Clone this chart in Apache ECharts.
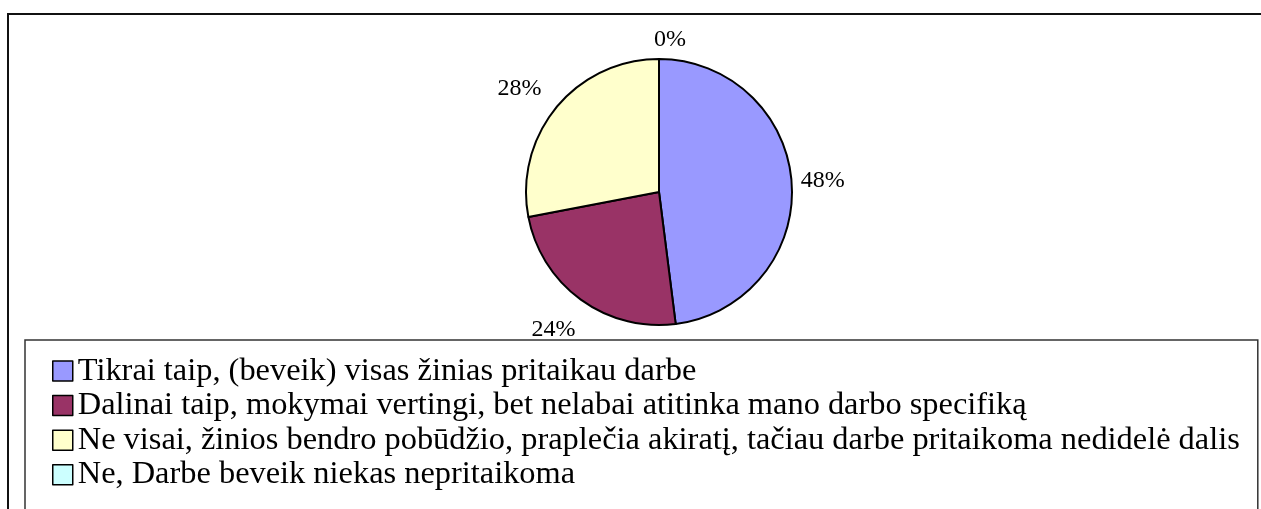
<!DOCTYPE html>
<html>
<head>
<meta charset="utf-8">
<script src="https://cdn.jsdelivr.net/npm/echarts@6/dist/echarts.min.js"></script>
<style>
  html, body { margin: 0; padding: 0; background: #fff; }
  #chart { width: 1261px; height: 509px; }
</style>
</head>
<body>
<div id="chart"></div>
<script>
// atsakymų kategorijos ir jų kiekiai
var categories = [
  'Tikrai taip, (beveik) visas žinias pritaikau darbe',
  'Dalinai taip, mokymai vertingi, bet nelabai atitinka mano darbo specifiką',
  'Ne visai, žinios bendro pobūdžio, praplečia akiratį, tačiau darbe pritaikoma nedidelė dalis',
  'Ne, Darbe beveik niekas nepritaikoma'
];
var counts = [12, 6, 7, 0];
var colors = ['#9999FF', '#993366', '#FFFFCC', '#CCFFFF'];

// small nudges so labels sit like the Excel original
var labelNudge = [[-5, -2], [5, 23], [-3, -13], [-10, -10]];

var chart = echarts.init(document.getElementById('chart'));

var option = {
  backgroundColor: '#fff',
  animation: false,
  graphic: [{
    type: 'rect',
    shape: { x: 8, y: 14, width: 1300, height: 540 },
    style: { fill: 'none', stroke: '#111', lineWidth: 2 },
    silent: true
  }],
  legend: {
    orient: 'vertical',
    left: 25,
    top: 340,
    height: 220,
    padding: [15, 18, 20, 27],
    itemWidth: 20,
    itemHeight: 20,
    itemGap: 2.6,
    icon: 'rect',
    borderColor: '#333',
    borderWidth: 1.5,
    itemStyle: { borderColor: '#000', borderWidth: 1.5 },
    textStyle: {
      fontFamily: 'Liberation Serif',
      fontSize: 32.4,
      lineHeight: 32,
      color: '#000'
    },
    data: categories
  },
  series: [{
    type: 'pie',
    center: [659, 192],
    radius: 133,
    startAngle: 90,
    clockwise: true,
    avoidLabelOverlap: false,
    itemStyle: { borderColor: '#000', borderWidth: 2 },
    emphasis: { disabled: true },
    label: {
      show: true,
      position: 'outside',
      formatter: function (p) { return Math.round(p.percent) + '%'; },
      fontFamily: 'Liberation Serif',
      fontSize: 24,
      color: '#000'
    },
    labelLine: { show: false, length: 9, length2: 0 },
    labelLayout: function (p) {
      var n = labelNudge[p.dataIndex];
      var res = { dx: n[0], dy: n[1] };
      if (p.dataIndex === 3) res.align = 'left';
      return res;
    },
    data: categories.map(function (c, i) {
      return { name: c, value: counts[i], itemStyle: { color: colors[i] } };
    })
  }]
};

chart.setOption(option);
</script>
</body>
</html>
